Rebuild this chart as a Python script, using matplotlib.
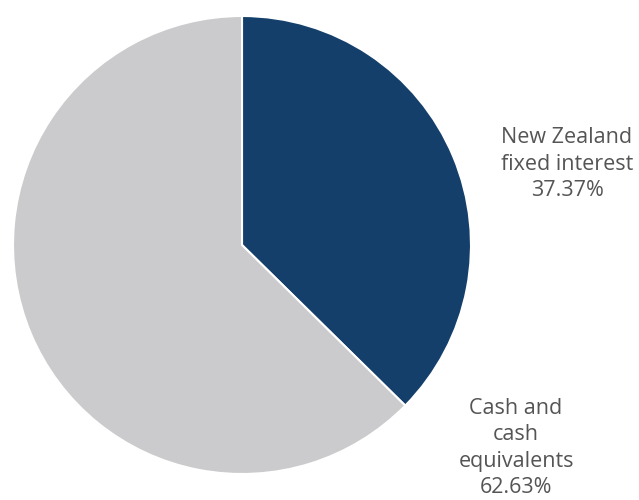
import matplotlib
matplotlib.use("Agg")
import matplotlib.pyplot as plt

# Portfolio allocation
categories = ["New Zealand\nfixed interest", "Cash and\ncash\nequivalents"]
shares = [37.37, 62.63]
colors = ["#143F6B", "#CBCBCD"]

plt.rcParams['font.family'] = ['Open Sans', 'DejaVu Sans']

fig = plt.figure(figsize=(6.39, 5.0), dpi=100)
ax = fig.add_axes([0, 0, 1, 1])

ax.pie(shares, colors=colors, startangle=90, counterclock=False,
       center=(242, 255), radius=229,
       wedgeprops=dict(edgecolor="white", linewidth=1.5))
ax.set_xlim(0, 639)
ax.set_ylim(0, 500)
ax.set_aspect("equal")
ax.axis("off")

# labels to the right of the pie
label_pos = [(567, 336), (516, 52)]
for (x, y), name, val in zip(label_pos, categories, shares):
    ax.text(x, y, f"{name}\n{val:.2f}%", ha="center", va="center",
            fontsize=15.5, color="#555555", linespacing=1.32)

fig.savefig("out.png", dpi=100)
